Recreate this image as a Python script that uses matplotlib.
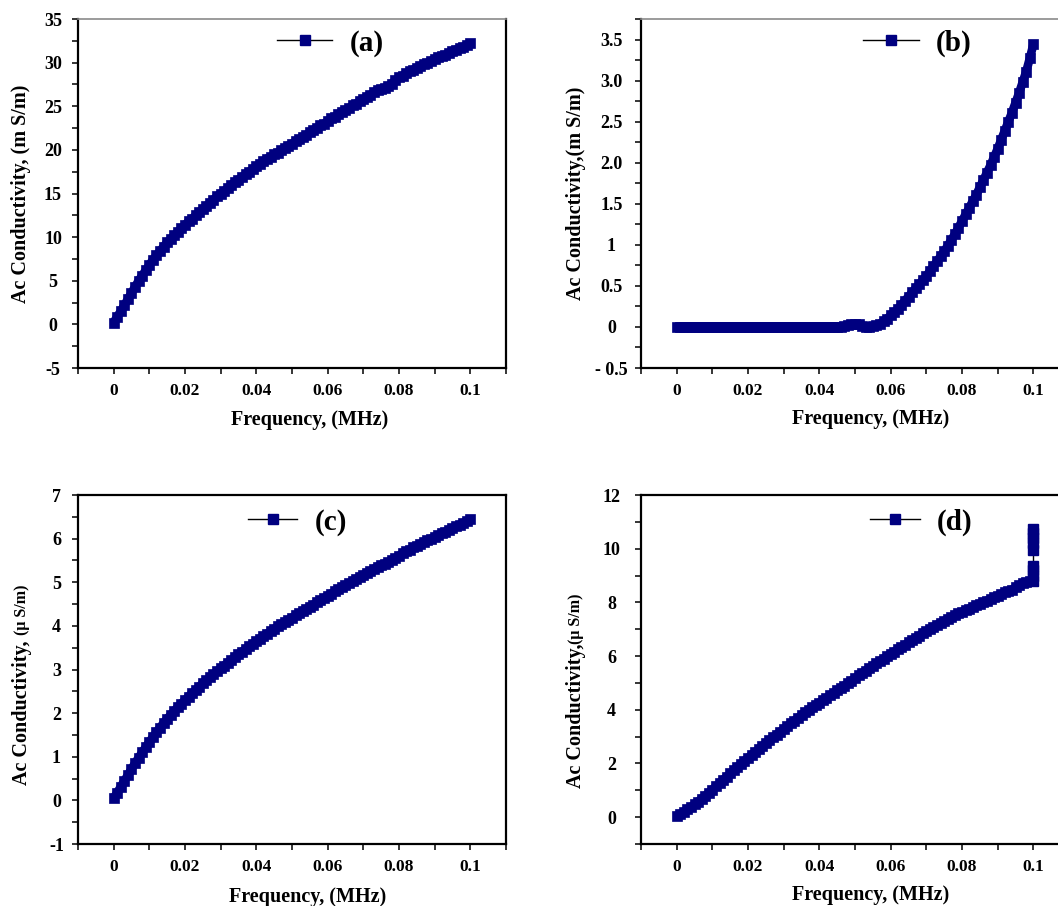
import matplotlib
matplotlib.use("Agg")
import matplotlib.pyplot as plt
from matplotlib.lines import Line2D
from matplotlib.ticker import AutoMinorLocator

plt.rcParams["font.family"] = ["Liberation Serif", "DejaVu Serif"]
plt.rcParams["font.weight"] = "bold"

# frequency sweep in kHz (same grid for every sample)
freq_khz = [
    0, 1, 2, 3, 4, 5, 6, 7, 8, 9, 10, 11, 12, 13, 14, 15, 16, 17, 18, 19,
    20, 21, 22, 23, 24, 25, 26, 27, 28, 29, 30, 31, 32, 33, 34, 35, 36, 37, 38, 39,
    40, 41, 42, 43, 44, 45, 46, 47, 48, 49, 50, 51, 52, 53, 54, 55, 56, 57, 58, 59,
    60, 61, 62, 63, 64, 65, 66, 67, 68, 69, 70, 71, 72, 73, 74, 75, 76, 77, 78, 79,
    80, 81, 82, 83, 84, 85, 86, 87, 88, 89, 90, 91, 92, 93, 94, 95, 96, 97, 98, 99,
    100,
]

# (a) mS/m
sigma_a = [
    0.2, 0.9, 1.5, 2.2, 2.9, 3.6, 4.3, 5.0, 5.6, 6.2,
    6.8, 7.4, 7.9, 8.4, 8.9, 9.4, 9.8, 10.2, 10.6, 11.0,
    11.4, 11.8, 12.1, 12.5, 12.9, 13.2, 13.6, 13.9, 14.3, 14.7,
    15.0, 15.3, 15.6, 16.0, 16.3, 16.6, 16.9, 17.2, 17.5, 17.8,
    18.1, 18.4, 18.7, 19.0, 19.2, 19.5, 19.7, 20.0, 20.2, 20.5,
    20.7, 21.0, 21.2, 21.5, 21.7, 22.0, 22.3, 22.5, 22.8, 23.0,
    23.3, 23.6, 23.8, 24.1, 24.3, 24.6, 24.8, 25.1, 25.3, 25.6,
    25.8, 26.1, 26.3, 26.6, 26.9, 27.0, 27.1, 27.3, 27.6, 28.0,
    28.3, 28.5, 28.8, 29.0, 29.2, 29.4, 29.6, 29.8, 30.0, 30.2,
    30.4, 30.6, 30.8, 30.9, 31.1, 31.3, 31.5, 31.7, 31.8, 32.0,
    32.2,
]

# (b) mS/m
sigma_b = [
    0.0, 0.0, 0.0, 0.0, 0.0, 0.0, 0.0, 0.0, 0.0, 0.0,
    0.0, 0.0, 0.0, 0.0, 0.0, 0.0, 0.0, 0.0, 0.0, 0.0,
    0.0, 0.0, 0.0, 0.0, 0.0, 0.0, 0.0, 0.0, 0.0, 0.0,
    0.0, 0.0, 0.0, 0.0, 0.0, 0.0, 0.0, 0.0, 0.0, 0.0,
    0.0, 0.0, 0.0, 0.0, 0.0, 0.0, 0.0, 0.01, 0.02, 0.03,
    0.03, 0.03, 0.01, 0.0, 0.0, 0.01, 0.02, 0.04, 0.07, 0.10,
    0.14, 0.18, 0.22, 0.27, 0.32, 0.37, 0.42, 0.47, 0.52, 0.57,
    0.62, 0.68, 0.74, 0.80, 0.86, 0.92, 0.99, 1.06, 1.13, 1.21,
    1.29, 1.37, 1.45, 1.53, 1.61, 1.70, 1.79, 1.88, 1.97, 2.07,
    2.17, 2.28, 2.39, 2.50, 2.61, 2.73, 2.85, 2.98, 3.11, 3.27,
    3.44,
]

# (c) uS/m
sigma_c = [
    0.05, 0.18, 0.31, 0.45, 0.58, 0.72, 0.85, 0.98, 1.10, 1.22,
    1.34, 1.45, 1.56, 1.67, 1.77, 1.87, 1.96, 2.05, 2.14, 2.22,
    2.30, 2.38, 2.46, 2.53, 2.61, 2.68, 2.75, 2.82, 2.89, 2.96,
    3.03, 3.09, 3.16, 3.22, 3.29, 3.35, 3.41, 3.47, 3.53, 3.59,
    3.65, 3.71, 3.77, 3.82, 3.88, 3.93, 3.99, 4.04, 4.09, 4.14,
    4.19, 4.24, 4.29, 4.34, 4.39, 4.44, 4.49, 4.54, 4.59, 4.64,
    4.69, 4.74, 4.79, 4.84, 4.89, 4.94, 4.98, 5.03, 5.08, 5.12,
    5.17, 5.22, 5.26, 5.31, 5.36, 5.40, 5.43, 5.46, 5.51, 5.56,
    5.61, 5.66, 5.71, 5.75, 5.80, 5.84, 5.88, 5.92, 5.96, 6.00,
    6.04, 6.08, 6.12, 6.16, 6.20, 6.24, 6.28, 6.32, 6.36, 6.40,
    6.45,
]

# (d) uS/m
sigma_d = [
    0.05, 0.12, 0.20, 0.29, 0.38, 0.48, 0.58, 0.69, 0.80, 0.91,
    1.03, 1.15, 1.27, 1.39, 1.51, 1.63, 1.75, 1.87, 1.99, 2.10,
    2.21, 2.32, 2.43, 2.54, 2.65, 2.76, 2.87, 2.97, 3.08, 3.18,
    3.29, 3.39, 3.50, 3.60, 3.70, 3.80, 3.90, 4.00, 4.09, 4.18,
    4.27, 4.36, 4.45, 4.54, 4.63, 4.72, 4.81, 4.90, 5.00, 5.09,
    5.18, 5.28, 5.37, 5.46, 5.55, 5.64, 5.73, 5.82, 5.91, 6.00,
    6.08, 6.17, 6.25, 6.34, 6.42, 6.51, 6.59, 6.68, 6.76, 6.85,
    6.93, 7.01, 7.09, 7.17, 7.24, 7.31, 7.38, 7.45, 7.52, 7.59,
    7.65, 7.71, 7.77, 7.83, 7.89, 7.95, 8.01, 8.07, 8.13, 8.19,
    8.25, 8.31, 8.37, 8.43, 8.48, 8.56, 8.64, 8.72, 8.76, 8.78,
    8.80,
]
# extra readings at the last frequency (vertical jump in d)
tail_d_khz = [100, 100, 100, 100, 100, 100, 100, 100, 100]
tail_d = [8.80, 9.0, 9.2, 9.35, 9.95, 10.2, 10.4, 10.6, 10.72]

NAVY = "#000080"
xticks = [0, 0.02, 0.04, 0.06, 0.08, 0.1]
xticklabels = ["0", "0.02", "0.04", "0.06", "0.08", "0.1"]

panels = [
    dict(tag="(a)", y=sigma_a, tail=None, ylim=(-5, 35),
         yticks=[-5, 0, 5, 10, 15, 20, 25, 30, 35],
         yticklabels=["-5", "0", "5", "10", "15", "20", "25", "30", "35"],
         ylabel="Ac Conductivity, (m S/m)", unit=None,
         rect=[0.0737, 0.5938, 0.4045, 0.3852], ypad=14.0,
         ylab=(-0.133, 0.5), xlab=(0.542, -0.149), leg=(0.465, 0.931), hl=1.9),
    dict(tag="(b)", y=sigma_b, tail=None, ylim=(-0.5, 3.75),
         yticks=[-0.5, 0, 0.5, 1, 1.5, 2, 2.5, 3, 3.5],
         yticklabels=["- 0.5", "0", "0.5", "1", "1.5", "2.0", "2.5", "3.0", "3.5"],
         ylabel="Ac Conductivity,(m S/m)", unit=None,
         rect=[0.6059, 0.5938, 0.4045, 0.3852], ypad=17.3,
         ylab=(-0.152, 0.5), xlab=(0.537, -0.146), leg=(0.519, 0.931), hl=1.9),
    dict(tag="(c)", y=sigma_c, tail=None, ylim=(-1, 7),
         yticks=[-1, 0, 1, 2, 3, 4, 5, 6, 7],
         yticklabels=["-1", "0", "1", "2", "3", "4", "5", "6", "7"],
         ylabel="Ac Conductivity, ", unit="(μ S/m)",
         rect=[0.0737, 0.0684, 0.4045, 0.3852], ypad=11.5,
         ylab=(-0.131, 0.384), xlab=(0.537, -0.152), leg=(0.397, 0.923), hl=1.7),
    dict(tag="(d)", y=sigma_d, tail=(tail_d_khz, tail_d), ylim=(-1, 12),
         yticks=[0, 2, 4, 6, 8, 10, 12],
         yticklabels=["0", "2", "4", "6", "8", "10", "12"],
         ylabel="Ac Conductivity,", unit="(μ S/m)",
         rect=[0.6059, 0.0684, 0.4045, 0.3852], ypad=17.3,
         ylab=(-0.152, 0.367), xlab=(0.537, -0.146), leg=(0.535, 0.923), hl=1.7),
]

fig = plt.figure(figsize=(10.58, 9.06), dpi=100)

for i, p in enumerate(panels):
    ax = fig.add_axes(p["rect"])
    f_mhz = [k / 1000 for k in freq_khz]
    # dense measured points: squares merge into a solid band
    ax.plot(f_mhz, p["y"], color=NAVY, lw=6.2, marker="s", markersize=7,
            markerfacecolor=NAVY, markeredgecolor=NAVY, markeredgewidth=0.5,
            solid_joinstyle="round", solid_capstyle="butt")
    if p["tail"]:
        tk, tv = p["tail"]
        ax.plot([k / 1000 for k in tk], tv, color="black", lw=1.0, marker="s",
                markersize=6.5, markerfacecolor=NAVY, markeredgecolor=NAVY)

    ax.set_xlim(-0.01, 0.11)
    ax.set_ylim(*p["ylim"])
    ax.set_xticks(xticks)
    ax.set_xticklabels(xticklabels)
    ax.set_yticks(p["yticks"])
    ax.set_yticklabels(p["yticklabels"])
    ax.xaxis.set_minor_locator(AutoMinorLocator(2))
    ax.yaxis.set_minor_locator(AutoMinorLocator(2))
    ax.tick_params(which="both", direction="out", length=4, width=1.1, color="black")
    ax.tick_params(axis="x", which="major", labelsize=12.5, pad=7)
    ax.tick_params(axis="y", which="major", labelsize=13, pad=p["ypad"])
    for lab in ax.get_yticklabels():
        lab.set_horizontalalignment("center")
        lab.set_fontweight("bold")
    for lab in ax.get_xticklabels():
        lab.set_fontweight("bold")

    for s in ax.spines.values():
        s.set_linewidth(1.6)
        s.set_color("black")
    if i < 2:
        ax.spines["top"].set_color("#8a8a8a")
        ax.spines["top"].set_linewidth(1.2)

    ax.set_xlabel("Frequency, (MHz)", fontsize=14.5, fontweight="bold", va="center")
    ax.xaxis.set_label_coords(*p["xlab"])
    ax.set_ylabel(p["ylabel"], fontsize=14.5, fontweight="bold", va="center")
    ax.yaxis.set_label_coords(*p["ylab"])
    if p["unit"]:
        ax.annotate(p["unit"], xy=(0.5, 1.0), xycoords=ax.yaxis.label,
                    rotation=90, ha="center", va="bottom",
                    fontsize=11.5, fontweight="bold")

    handle = Line2D([], [], color="black", lw=1.0, marker="s", markersize=7.5,
                    markerfacecolor=NAVY, markeredgecolor=NAVY)
    ax.legend([handle], [p["tag"]], loc="center left", bbox_to_anchor=p["leg"],
              frameon=False, handlelength=p["hl"], handletextpad=0.6,
              borderpad=0, borderaxespad=0, prop={"weight": "bold", "size": 21})

fig.savefig("out.png", dpi=100)
